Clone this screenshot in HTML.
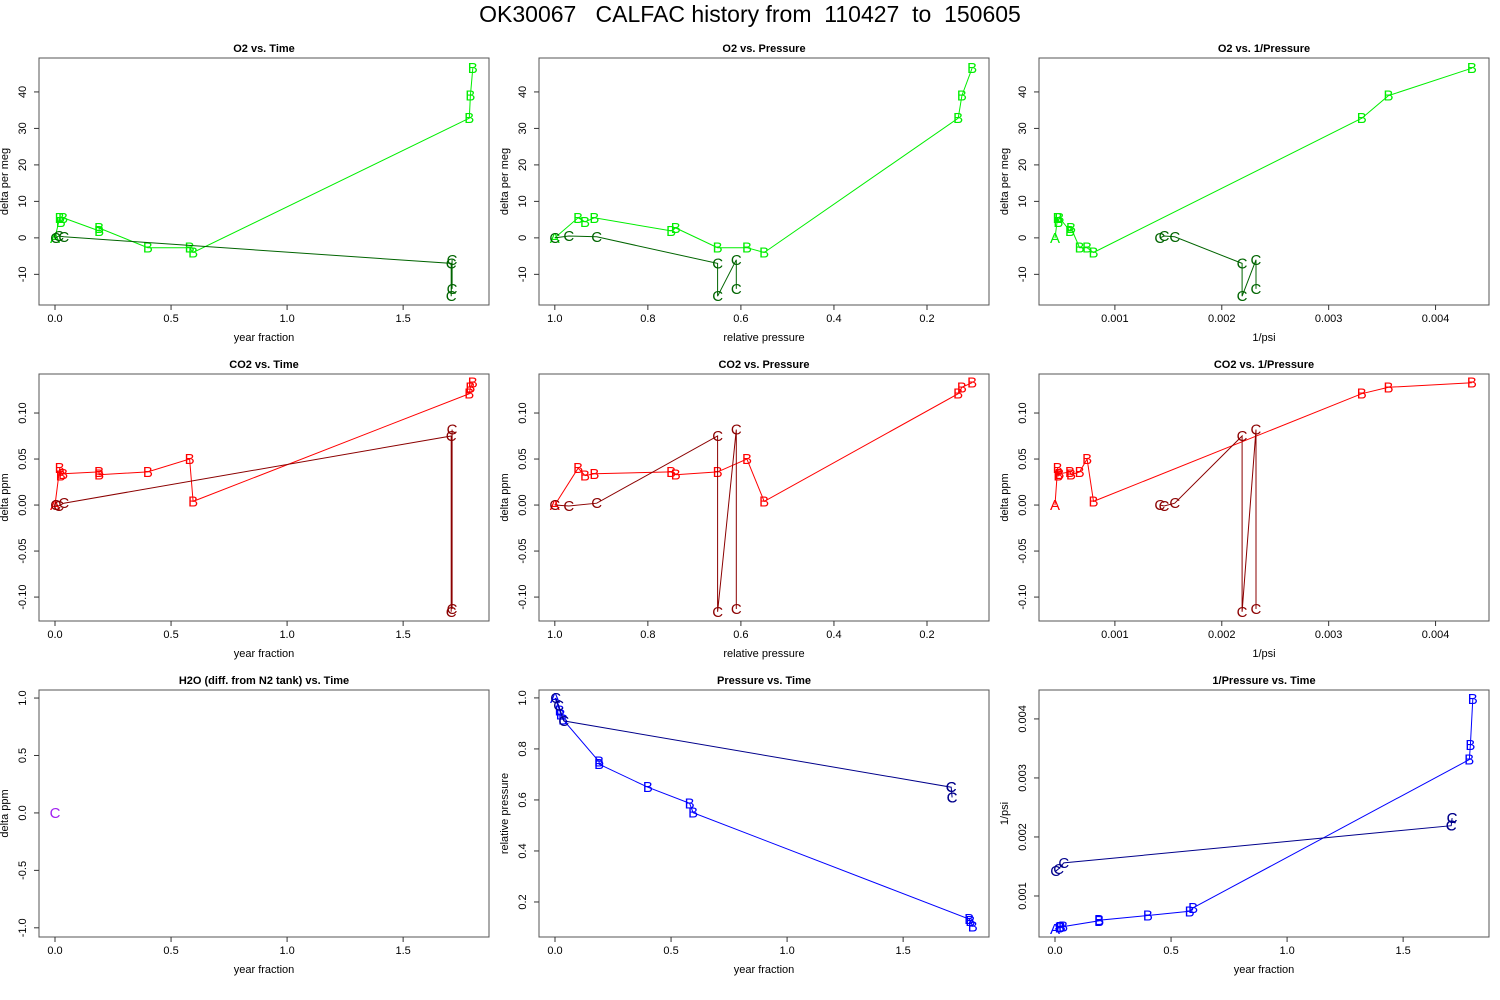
<!DOCTYPE html>
<html><head><meta charset="utf-8"><style>
html,body{margin:0;padding:0;background:#fff;}
svg{display:block;font-family:"Liberation Sans",sans-serif;}
</style></head><body>
<svg id="chart" width="1500" height="1000" viewBox="0 0 1500 1000">
<text x="750" y="22" text-anchor="middle" font-size="23" style="white-space:pre" xml:space="preserve">OK30067   CALFAC history from  110427  to  150605</text>
</svg>
<script>
// Series B (bright) data
const bLabels = ['A','B','B','B','B','B','B','B','B','B','B','B'];
const bTime = [0.0, 0.02, 0.025, 0.035, 0.19, 0.19, 0.40, 0.58, 0.595, 1.785, 1.79, 1.80];
const bPressure = [1.0, 0.95, 0.935, 0.915, 0.75, 0.74, 0.65, 0.587, 0.55, 0.133, 0.125, 0.103];
const bInvPsi = [0.00044, 0.000464, 0.000471, 0.000481, 0.00058, 0.00059, 0.00067, 0.00074, 0.0008, 0.00331, 0.00356, 0.00434];
const bO2 = [0, 5.5, 4.4, 5.5, 1.9, 2.7, -2.7, -2.7, -4, 32.8, 39, 46.5];
const bCO2 = [0, 0.040, 0.032, 0.034, 0.036, 0.033, 0.036, 0.050, 0.004, 0.121, 0.128, 0.133];
// Series C (dark) data
const cLabels = ['C','C','C','C','C','C','C'];
const cTime = [0.003, 0.016, 0.038, 1.707, 1.707, 1.711, 1.711];
const cPressure = [1.0, 0.97, 0.91, 0.65, 0.65, 0.61, 0.61];
const cInvPsi = [0.00142, 0.00146, 0.00156, 0.00219, 0.00219, 0.00232, 0.00232];
const cO2 = [0, 0.5, 0.3, -7, -16, -6, -14];
const cCO2 = [0, -0.001, 0.002, 0.075, -0.116, 0.082, -0.113];
const cH2O = [0];
const hTime = [0.0];
// Tick labels
const timeTicks = ['0.0','0.5','1.0','1.5'];
const presTicks = ['1.0','0.8','0.6','0.4','0.2'];
const invTicks = ['0.001','0.002','0.003','0.004'];
const o2Ticks = ['-10','0','10','20','30','40'];
const co2Ticks = ['-0.10','-0.05','0.00','0.05','0.10'];
const h2oTicks = ['-1.0','-0.5','0.0','0.5','1.0'];

const NS='http://www.w3.org/2000/svg';
const svg=document.getElementById('chart');
function el(tag,attrs,parent){const e=document.createElementNS(NS,tag);for(const k in attrs)e.setAttribute(k,attrs[k]);(parent||svg).appendChild(e);return e;}
const cols=[39,539,1039], rows=[58,374,690], W=450, H=247;
const ranges={
 time:[-0.069,1.87], pres:[1.034,0.0667], inv:[0.00029,0.0045],
 o2:[-18.4,49.3], co2:[-0.126,0.1424], h2o:[-1.08,1.07], presY:[0.0627,1.031], invY:[0.000305,0.00449]
};
const tickSets={time:timeTicks,pres:presTicks,inv:invTicks,o2:o2Ticks,co2:co2Ticks,h2o:h2oTicks,presY:presTicks,invY:invTicks};
const xlabels={time:'year fraction',pres:'relative pressure',inv:'1/psi'};
const ylabels={o2:'delta per meg',co2:'delta ppm',h2o:'delta ppm',presY:'relative pressure',invY:'1/psi'};

function panel(name,title,r,c,xk,yk,series){
 const x0=cols[c],y0=rows[r];
 const g=el('g',{});
 
 
 const [xa,xb]=ranges[xk],[ya,yb]=ranges[yk];
 const sx=v=>x0+(v-xa)/(xb-xa)*W;
 const sy=v=>y0+H-(v-ya)/(yb-ya)*H;
 const box=el('rect',{x:x0,y:y0,width:W,height:H,fill:'none',stroke:'#555','stroke-width':1},g);
 
 
 const t=el('text',{x:x0+W/2,y:y0-6,'text-anchor':'middle','font-size':11,'font-weight':'bold'},g);
 t.textContent=title;
 
 
 tickSets[xk].forEach(s=>{const v=parseFloat(s),px=sx(v);
  el('line',{x1:px,y1:y0+H,x2:px,y2:y0+H+5,stroke:'#333'},g);
  const tt=el('text',{x:px,y:y0+H+17,'text-anchor':'middle','font-size':11},g);tt.textContent=s;
  
  });
 tickSets[yk].forEach(s=>{const v=parseFloat(s),py=sy(v);
  el('line',{x1:x0,y1:py,x2:x0-5,y2:py,stroke:'#333'},g);
  const tt=el('text',{x:x0-13,y:py,'text-anchor':'middle','font-size':11,transform:`rotate(-90 ${x0-13} ${py})`},g);tt.textContent=s;
  
  });
 const xl=el('text',{x:x0+W/2,y:y0+H+36,'text-anchor':'middle','font-size':11},g);xl.textContent=xlabels[xk];
 
 
 const yx=x0-31,yy=y0+H/2;
 const yl=el('text',{x:yx,y:yy,'text-anchor':'middle','font-size':11,transform:`rotate(-90 ${yx} ${yy})`},g);yl.textContent=ylabels[yk];
 
 
 series.forEach(s=>{
  const pts=s.x.map((v,i)=>sx(v).toFixed(1)+','+sy(s.y[i]).toFixed(1)).join(' ');
  if(s.x.length>1){const pl=el('polyline',{points:pts,fill:'none',stroke:s.color,'stroke-width':1},g);
   
   }
  s.x.forEach((v,i)=>{const m=el('text',{x:sx(v),y:sy(s.y[i])+5,'text-anchor':'middle','font-size':15,fill:s.color},g);
   m.textContent=s.labels[i];
   
   });
 });
}
const G1='#00ee00',G2='#006400',R1='#ff0000',R2='#8b0000',B1='#0000ff',B2='#00008b';
panel('o2-vs-time','O2 vs. Time',0,0,'time','o2',[{name:'b-series',x:bTime,y:bO2,labels:bLabels,color:G1},{name:'c-series',x:cTime,y:cO2,labels:cLabels,color:G2}]);
panel('o2-vs-pressure','O2 vs. Pressure',0,1,'pres','o2',[{name:'b-series',x:bPressure,y:bO2,labels:bLabels,color:G1},{name:'c-series',x:cPressure,y:cO2,labels:cLabels,color:G2}]);
panel('o2-vs-inv-pressure','O2 vs. 1/Pressure',0,2,'inv','o2',[{name:'b-series',x:bInvPsi,y:bO2,labels:bLabels,color:G1},{name:'c-series',x:cInvPsi,y:cO2,labels:cLabels,color:G2}]);
panel('co2-vs-time','CO2 vs. Time',1,0,'time','co2',[{name:'b-series',x:bTime,y:bCO2,labels:bLabels,color:R1},{name:'c-series',x:cTime,y:cCO2,labels:cLabels,color:R2}]);
panel('co2-vs-pressure','CO2 vs. Pressure',1,1,'pres','co2',[{name:'b-series',x:bPressure,y:bCO2,labels:bLabels,color:R1},{name:'c-series',x:cPressure,y:cCO2,labels:cLabels,color:R2}]);
panel('co2-vs-inv-pressure','CO2 vs. 1/Pressure',1,2,'inv','co2',[{name:'b-series',x:bInvPsi,y:bCO2,labels:bLabels,color:R1},{name:'c-series',x:cInvPsi,y:cCO2,labels:cLabels,color:R2}]);
panel('h2o-vs-time','H2O (diff. from N2 tank) vs. Time',2,0,'time','h2o',[{name:'h2o-series',x:hTime,y:cH2O,labels:['C'],color:'#a020f0'}]);
panel('pressure-vs-time','Pressure vs. Time',2,1,'time','presY',[{name:'b-series',x:bTime,y:bPressure,labels:bLabels,color:B1},{name:'c-series',x:cTime,y:cPressure,labels:cLabels,color:B2}]);
panel('inv-pressure-vs-time','1/Pressure vs. Time',2,2,'time','invY',[{name:'b-series',x:bTime,y:bInvPsi,labels:bLabels,color:B1},{name:'c-series',x:cTime,y:cInvPsi,labels:cLabels,color:B2}]);
</script>
</body></html>
